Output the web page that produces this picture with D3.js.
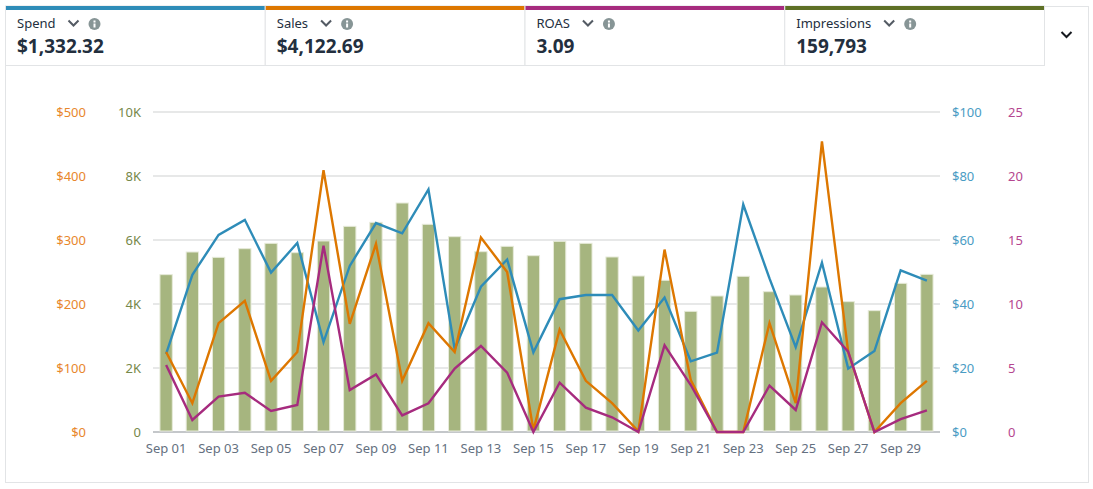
<!DOCTYPE html>
<html lang="en">
<head>
    <meta charset="UTF-8">
    <title>Campaign metrics</title>
    <style>
        html, body { margin: 0; padding: 0; background: #fff; overflow: hidden; }
        svg text { font-family: "Noto Sans", "Open Sans", sans-serif; }
        .domain { display: none; }
        .tick line { display: none; }
    </style>
</head>
<body>
<script src="https://d3js.org/d3.v7.min.js"></script>
<script>
    const days = ["Sep 01", "Sep 02", "Sep 03", "Sep 04", "Sep 05", "Sep 06", "Sep 07", "Sep 08", "Sep 09", "Sep 10",
        "Sep 11", "Sep 12", "Sep 13", "Sep 14", "Sep 15", "Sep 16", "Sep 17", "Sep 18", "Sep 19", "Sep 20",
        "Sep 21", "Sep 22", "Sep 23", "Sep 24", "Sep 25", "Sep 26", "Sep 27", "Sep 28", "Sep 29", "Sep 30"];
    const dayLabels = days.filter((d, i) => i % 2 === 0);

    const spend = [24.4, 49.1, 61.6, 66.3, 49.8, 59.1, 28.1, 51.9, 65.3, 62.1, 75.8, 25.9, 45.4, 53.9, 24.9,
        41.5, 42.8, 42.8, 31.7, 42.0, 22.1, 24.8, 71.1, 48.0, 26.5, 52.9, 19.8, 25.3, 50.5, 47.3];
    const sales = [125, 45, 170, 205, 80, 125, 409, 169, 294, 80, 170, 125, 304, 250, 3,
        160, 80, 45, 1, 285, 81, 0, 0, 170, 45, 454, 125, 0, 45, 80];
    const roas = [5.23, 0.94, 2.76, 3.07, 1.64, 2.11, 14.56, 3.28, 4.5, 1.3, 2.24, 4.95, 6.72, 4.64, 0,
        3.85, 1.9, 1.15, 0, 6.77, 3.67, 0, 0, 3.62, 1.72, 8.57, 6.28, 0, 1, 1.69];
    const impressions = [4917, 5625, 5458, 5729, 5896, 5604, 5969, 6427, 6552, 7156, 6490, 6104, 5635, 5802, 5510,
        5958, 5896, 5469, 4875, 4740, 3771, 4250, 4865, 4385, 4281, 4531, 4073, 3792, 4646, 4927];

    const cardNames = ["Spend", "Sales", "ROAS", "Impressions"];
    const cardValues = ["$1,332.32", "$4,122.69", "3.09", "159,793"];
    const cardColors = ["#2e8cb8", "#dd7700", "#a62b7e", "#5e7025"];

    const salesTicks = [0, 100, 200, 300, 400, 500];
    const impressionTicks = [0, 2000, 4000, 6000, 8000, 10000];
    const spendTicks = [0, 20, 40, 60, 80, 100];
    const roasTicks = [0, 5, 10, 15, 20, 25];

    const w = 1093, h = 489;
    const plot = {left: 153, right: 940, top: 112, bottom: 432};
    const border = "#e2e4e6";

    const svg = d3.select("body").append("svg")
        .attr("width", w)
        .attr("height", h)
        .style("display", "block");

    // outer frame
    svg.append("rect")
        .attr("x", 5.5).attr("y", 6.5)
        .attr("width", 1083).attr("height", 476)
        .attr("fill", "none").attr("stroke", border);

    // metric cards
    const cardX = d3.scaleBand().domain(cardNames).range([5.5, 1044.5]);

    const card = svg.selectAll("g.card")
        .data(cardNames)
        .enter()
        .append("g")
        .attr("class", "card")
        .attr("transform", d => "translate(" + cardX(d) + ",0)");

    card.append("rect")
        .attr("x", 0).attr("y", 6)
        .attr("width", cardX.bandwidth()).attr("height", 59.5)
        .attr("fill", "#fff").attr("stroke", border);

    card.append("rect")
        .attr("x", 0.5).attr("y", 6)
        .attr("width", cardX.bandwidth() - 1).attr("height", 4)
        .attr("fill", (d, i) => cardColors[i]);

    card.append("text")
        .attr("x", 11.5).attr("y", 28)
        .attr("font-size", 13)
        .attr("fill", "#232f3e")
        .text(d => d);

    card.append("text")
        .attr("x", 11.5).attr("y", 53)
        .attr("font-size", 19)
        .attr("font-weight", 700)
        .attr("fill", "#232f3e")
        .text((d, i) => cardValues[i]);

    card.each(function () {
        const g = d3.select(this);
        const end = 11.5 + g.select("text").node().getComputedTextLength();

        g.append("path")
            .attr("d", "M" + (end + 13) + " 20.5l5 5l5 -5")
            .attr("fill", "none").attr("stroke", "#545b64").attr("stroke-width", 2);

        g.append("circle")
            .attr("cx", end + 39).attr("cy", 24).attr("r", 6)
            .attr("fill", "#879596");
        g.append("rect")
            .attr("x", end + 38).attr("y", 23.5).attr("width", 2).attr("height", 4)
            .attr("fill", "#fff");
        g.append("rect")
            .attr("x", end + 38).attr("y", 20.5).attr("width", 2).attr("height", 2)
            .attr("fill", "#fff");
    });

    // collapse chevron
    svg.append("path")
        .attr("d", "M1061.5 32l5 5l5 -5")
        .attr("fill", "none").attr("stroke", "#16191f").attr("stroke-width", 2);

    // scales
    const xScale = d3.scaleBand().domain(days).range([plot.left, plot.right]).paddingInner(0.53).paddingOuter(0.265);
    const xMid = d => xScale(d) + xScale.bandwidth() / 2;
    const yRange = [plot.bottom, plot.top];
    const yImpressions = d3.scaleLinear().domain([0, 10000]).range(yRange);
    const ySales = d3.scaleLinear().domain([0, 500]).range(yRange);
    const ySpend = d3.scaleLinear().domain([0, 100]).range(yRange);
    const yRoas = d3.scaleLinear().domain([0, 25]).range(yRange);

    // grid
    svg.append("g")
        .selectAll("line")
        .data(impressionTicks)
        .enter()
        .append("line")
        .attr("x1", plot.left).attr("x2", plot.right)
        .attr("y1", d => yImpressions(d)).attr("y2", d => yImpressions(d))
        .attr("stroke", d => d === 0 ? "#c4c7ca" : "#dfe0e1")
        .attr("stroke-width", d => d === 0 ? 2 : 1.3);

    // bars
    svg.append("g")
        .selectAll("rect")
        .data(impressions)
        .enter()
        .append("rect")
        .attr("x", (d, i) => xScale(days[i]))
        .attr("y", d => yImpressions(d))
        .attr("width", xScale.bandwidth())
        .attr("height", d => plot.bottom - yImpressions(d) - 1)
        .attr("fill", "#a6b57f")
        .attr("stroke", "#e6ead9")
        .attr("stroke-width", 1);

    // lines
    function drawLine(values, yScale, color) {
        const line = d3.line()
            .x((d, i) => xMid(days[i]))
            .y(d => yScale(d));
        svg.append("path")
            .attr("d", line(values))
            .attr("fill", "none")
            .attr("stroke", color)
            .attr("stroke-width", 2.4)
            .attr("stroke-linejoin", "miter");
    }

    drawLine(spend, ySpend, cardColors[0]);
    drawLine(sales, ySales, cardColors[1]);
    drawLine(roas, yRoas, cardColors[2]);

    // axes
    function drawAxis(axis, x, color, anchor) {
        const g = svg.append("g")
            .attr("transform", "translate(" + x + ",0)")
            .call(axis.tickSize(0).tickPadding(0));
        g.selectAll("text")
            .attr("fill", color)
            .attr("font-size", 13)
            .attr("text-anchor", anchor);
    }

    drawAxis(d3.axisLeft(ySales).tickValues(salesTicks).tickFormat(d => "$" + d), 86, "#e8872c", "end");
    drawAxis(d3.axisLeft(yImpressions).tickValues(impressionTicks).tickFormat(d => d === 0 ? "0" : (d / 1000) + "K"), 141, "#76884a", "end");
    drawAxis(d3.axisRight(ySpend).tickValues(spendTicks).tickFormat(d => "$" + d), 952, "#4a9cc4", "start");
    drawAxis(d3.axisRight(yRoas).tickValues(roasTicks), 1008, "#b5468f", "start");

    const xAxis = svg.append("g")
        .attr("transform", "translate(0," + plot.bottom + ")")
        .call(d3.axisBottom(xScale).tickValues(dayLabels).tickSize(0).tickPadding(12));
    xAxis.selectAll("text")
        .attr("fill", "#647080")
        .attr("font-size", 13);
</script>
</body>
</html>
